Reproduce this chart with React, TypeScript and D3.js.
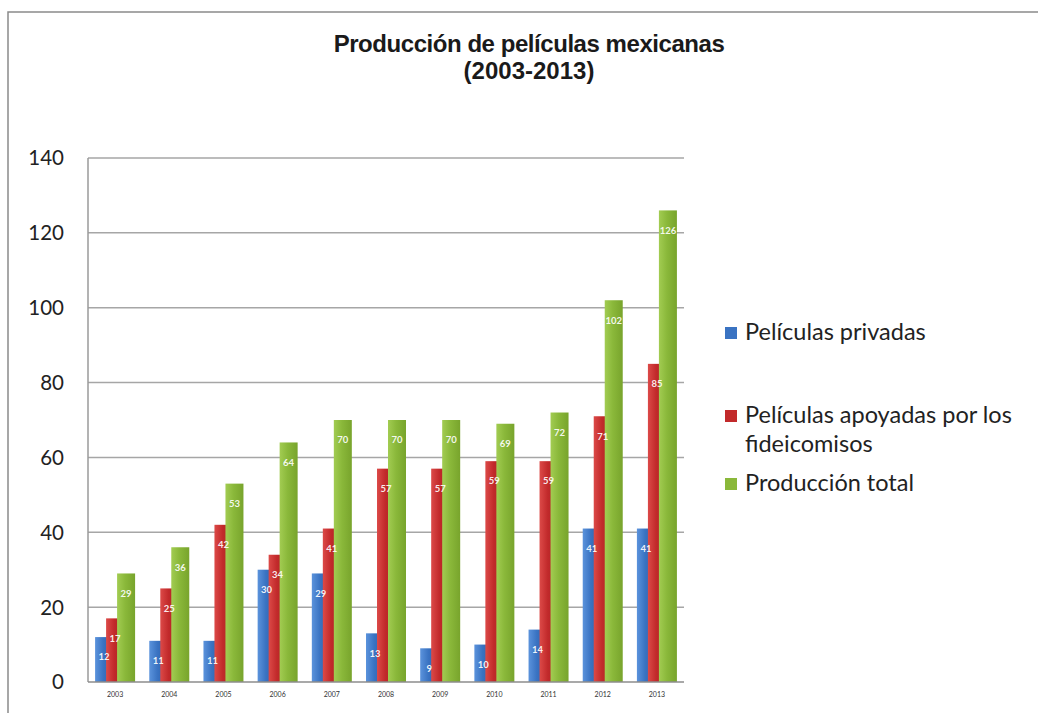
import React from "react";
import * as d3 from "d3";

const years = ["2003","2004","2005","2006","2007","2008","2009","2010","2011","2012","2013"];
const privadas = [12, 11, 11, 30, 29, 13, 9, 10, 14, 41, 41];
const apoyadas = [17, 25, 42, 34, 41, 57, 57, 59, 59, 71, 85];
const total = [29, 36, 53, 64, 70, 70, 70, 69, 72, 102, 126];
const legendLines = [["Películas privadas"], ["Películas apoyadas por los", "fideicomisos"], ["Producción total"]];
const yTicks = [0, 20, 40, 60, 80, 100, 120, 140];
const titleLines = ["Producción de películas mexicanas", "(2003-2013)"];

const W = 1038, H = 713;
const plot = { left: 88, right: 684, top: 158, bottom: 682 };
const colors = [
  { base: "#3a73c2", light: "#5b93dc", dark: "#2a5ea8" },
  { base: "#c22a2b", light: "#dc4a48", dark: "#a81f22" },
  { base: "#8ab83a", light: "#a2cc52", dark: "#78a42c" },
];

export default function App() {
  const x = d3.scaleBand<string>().domain(years).range([plot.left, plot.right]).padding(0);
  const y = d3.scaleLinear().domain([0, 140]).range([plot.bottom, plot.top]);
  const data = [privadas, apoyadas, total];
  const barW = 18;
  const offset = 11;
  const font = "Lato, 'Open Sans', sans-serif";
  const legendBaselines = [[340], [423, 452], [491]];

  return (
    <svg width={W} height={H} style={{ position: "absolute", left: 0, top: 0, background: "#fff" }}>
      <defs>
        {colors.map((c, i) => (
          <linearGradient key={i} id={`g${i}`} x1="0" x2="1" y1="0" y2="0">
            <stop offset="0%" stopColor={c.light} />
            <stop offset="45%" stopColor={c.base} />
            <stop offset="100%" stopColor={c.dark} />
          </linearGradient>
        ))}
      </defs>
      <rect x={0} y={0} width={W} height={H} fill="#fff" />
      <rect x={8} y={12} width={W + 20} height={H + 20} fill="none" stroke="#8a8a8a" strokeWidth={1.5} />

      {titleLines.map((t, i) => (
        <text key={i} x={529} y={i === 0 ? 52 : 79} textAnchor="middle" fontFamily="'Liberation Sans', Arial, sans-serif"
          fontWeight="bold" fontSize={24} fill="#1a1a1a" letterSpacing={i === 0 ? -0.45 : 0}>{t}</text>
      ))}

      {yTicks.map((t) => (
        <g key={t}>
          {t > 0 && (
            <line x1={plot.left} x2={plot.right} y1={y(t)} y2={y(t)} stroke="#a6a6a6" strokeWidth={1.5} />
          )}
          <text x={64} y={y(t)} dy="0.36em" textAnchor="end" fontFamily={font} fontSize={20.5} fill="#222">{t}</text>
        </g>
      ))}
      <line x1={plot.left} x2={plot.left} y1={plot.top} y2={plot.bottom} stroke="#9a9a9a" strokeWidth={1.5} />

      {data.map((vals, si) => (
        <g key={si}>
          {vals.map((v, i) => {
            const cx = (x(years[i]) as number) + x.bandwidth() / 2 + (si - 1) * offset;
            return (
              <rect key={i} x={cx - barW / 2} y={y(v)} width={barW} height={y(0) - y(v)} fill={`url(#g${si})`} />
            );
          })}
        </g>
      ))}
      <line x1={plot.left} x2={plot.right} y1={plot.bottom} y2={plot.bottom} stroke="#8c8c8c" strokeWidth={1.5} />

      {data.map((vals, si) => (
        <g key={`l${si}`}>
          {vals.map((v, i) => {
            const cx = (x(years[i]) as number) + x.bandwidth() / 2 + (si - 1) * offset;
            return (
              <text key={i} x={cx} y={y(v) + 20} dy="0.35em" textAnchor="middle" fontFamily={font} fontSize={9.5}
                fontWeight="bold" fill="#fff" fillOpacity={0.92}>{v}</text>
            );
          })}
        </g>
      ))}

      {years.map((yr) => (
        <text key={yr} x={(x(yr) as number) + x.bandwidth() / 2} y={695} dy="0.35em" textAnchor="middle"
          fontFamily={font} fontSize={7} fill="#333">{yr}</text>
      ))}

      <g fontFamily={font} fontSize={23.5} fill="#222">
        {legendLines.map((lines, li) => (
          <g key={li}>
            <rect x={725} y={legendBaselines[li][0] - 13} width={12} height={12} fill={colors[li].base} />
            {lines.map((ln, k) => (
              <text key={k} x={745} y={legendBaselines[li][k]}>{ln}</text>
            ))}
          </g>
        ))}
      </g>
    </svg>
  );
}
